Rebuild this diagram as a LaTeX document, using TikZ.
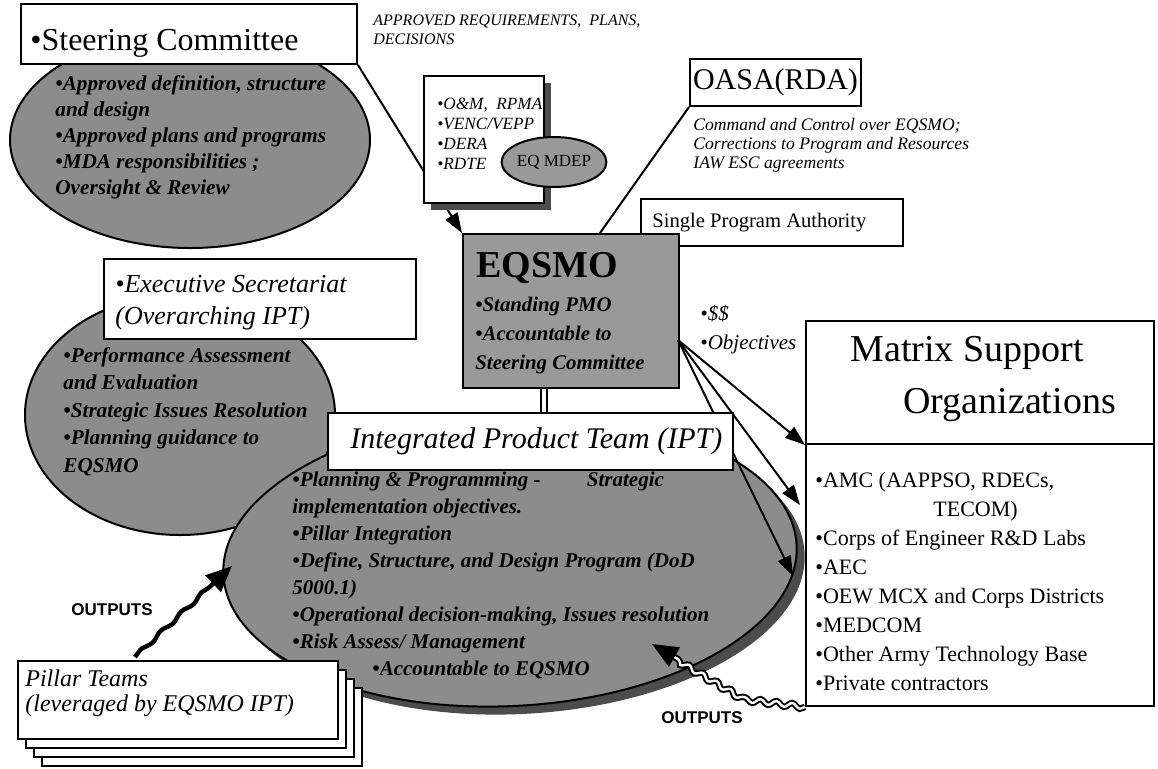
\documentclass[tikz,border=0pt]{standalone}
\usepackage{fontspec}
\setmainfont{Liberation Serif}
\newfontfamily\arialfont{Liberation Sans}
\usetikzlibrary{arrows.meta,shapes.geometric,decorations.pathmorphing}

\tikzset{
  frame/.style={draw, fill=white, line width=1pt, inner sep=0pt, anchor=north west},
  blob/.style={ellipse, draw, fill=black!45, line width=1pt, inner sep=0pt},
  shade/.style={fill=black!70, draw=none},
  note/.style={inner sep=0pt, align=left, anchor=north west},
  label/.style={inner sep=0pt, anchor=base west},
  wire/.style={line width=1pt},
  feed/.style={line width=1pt, -{Triangle[length=10pt,width=7pt]}},
  outflow/.style={line width=2.2pt, decorate,
    decoration={snake, amplitude=0.8pt, segment length=14pt, post length=13pt},
    -{Triangle[length=13pt,width=11pt]}},
  outlabel/.style={inner sep=0pt, font=\arialfont\bfseries\fontsize{8.5}{10}\selectfont}
}

\begin{document}
\begin{tikzpicture}[x=0.5pt,y=-0.5pt]
  \useasboundingbox (0,0) rectangle (1158,768);
  % steering committee
  \node[blob, minimum width=180pt, minimum height=108pt] (steerblob) at (190,140) {};
  \node[frame, minimum width=168pt, minimum height=30pt] (steer) at (20,3) {};
  \node[label, font=\fontsize{16}{19}\selectfont] (steertitle) at (30,50) {\textbullet Steering Committee};
  \node[note, font=\bfseries\itshape\fontsize{10.6}{13}\selectfont] (steerlist) at (55,75)
    {\textbullet Approved definition, structure\\and design\\\textbullet Approved plans and programs\\\textbullet MDA responsibilities ;\\Oversight \& Review};
  % executive secretariat
  \node[blob, minimum width=155pt, minimum height=120pt] (execblob) at (180,415) {};
  \node[frame, minimum width=156pt, minimum height=40pt] (exec) at (103,258) {};
  \node[note, font=\itshape\fontsize{13}{16}\selectfont] (exectitle) at (115,275)
    {\textbullet Executive Secretariat\\(Overarching IPT)};
  \node[note, font=\bfseries\itshape\fontsize{10.6}{13.75}\selectfont] (execlist) at (63,347)
    {\textbullet Performance Assessment\\and Evaluation\\\textbullet Strategic Issues Resolution\\\textbullet Planning guidance to\\EQSMO};
  % approved requirements and funds
  \node[note, font=\itshape\fontsize{8}{9.5}\selectfont] (approved) at (373,14)
    {APPROVED REQUIREMENTS,\ \ PLANS,\\DECISIONS};
  \node[frame, minimum width=108pt, minimum height=77pt, draw=none, fill=none] (eqsmoarea) at (462,233) {};
  \draw[feed] (steer.south east) -- (eqsmoarea.north west);
  \node[frame, shade, minimum width=60pt, minimum height=63.5pt] (fundshade) at (430,82) {};
  \node[frame, minimum width=60pt, minimum height=63.5pt] (funds) at (423,75) {};
  \node[note, font=\itshape\fontsize{8.6}{10}\selectfont] (fundlist) at (437,98)
    {\textbullet O\&M,\ \ RPMA\\\textbullet VENC/VEPP\\\textbullet DERA\\\textbullet RDTE};
  \node[blob, fill=black!40, minimum width=46pt, minimum height=25pt, font=\fontsize{8.5}{10}\selectfont] (mdep) at (554,162) {EQ MDEP};
  % OASA(RDA)
  \node[frame, minimum width=85.5pt, minimum height=23.5pt, font=\fontsize{15}{18}\selectfont] (oasa) at (689,58) {OASA(RDA)};
  \node[note, font=\itshape\fontsize{8.8}{9.5}\selectfont] (command) at (693,118)
    {Command and Control over EQSMO;\\Corrections to Program and Resources\\IAW ESC agreements};
  \coordinate (eqtop) at (600,233);
  \draw[wire] (oasa.south west) -- (eqtop);
  % single program authority and EQSMO
  \node[frame, minimum width=131pt, minimum height=23.5pt] (spa) at (640,198) {};
  \node[label, font=\fontsize{10.3}{12}\selectfont] (spatext) at (652,227) {Single Program Authority};
  \node[frame, fill=black!40, minimum width=108pt, minimum height=77pt] (eqsmo) at (462,233) {};
  \node[label, font=\bfseries\fontsize{19}{22}\selectfont] (eqsmotitle) at (476,277) {EQSMO};
  \node[note, font=\bfseries\itshape\fontsize{10.4}{14.5}\selectfont] (eqsmolist) at (475,297)
    {\textbullet Standing PMO\\\textbullet Accountable to\\Steering Committee};
  \node[note, font=\itshape\fontsize{10.5}{14.5}\selectfont] (money) at (700,305)
    {\textbullet\$\$\\\textbullet Objectives};
  % integrated product team
  \node[blob, shade, rotate=3, minimum width=287pt, minimum height=146pt] (iptshade) at (518,568) {};
  \node[blob, rotate=3, minimum width=287pt, minimum height=146pt] (iptblob) at (510,560) {};
  \coordinate (fan) at (678,340);
  \coordinate (iptright) at (793,576);
  \draw[feed] (fan) -- (iptright);
  \node[frame, minimum width=202.5pt, minimum height=28.5pt] (ipt) at (327,412) {};
  \node[label, font=\itshape\fontsize{15}{18}\selectfont] (ipttitle) at (350,448) {Integrated Product Team (IPT)};
  \coordinate (eqlink) at (544,400);
  \draw[wire, double, double distance=2pt, line width=0.8pt] (eqsmo.south -| eqlink) -- (ipt.north -| eqlink);
  \node[note, font=\bfseries\itshape\fontsize{10.5}{13.5}\selectfont] (iptlist) at (292,472)
    {\textbullet Planning \& Programming -\hspace{2.2em}Strategic\\implementation objectives.\\\textbullet Pillar Integration\\\textbullet Define, Structure, and Design Program (DoD\\5000.1)\\\textbullet Operational decision-making, Issues resolution\\\textbullet Risk Assess/ Management\\\hspace*{40pt}\textbullet Accountable to EQSMO};
  % matrix support organizations
  \node[frame, minimum width=174pt, minimum height=61.5pt] (matrixtop) at (805,320) {};
  \node[note, font=\fontsize{19}{26}\selectfont] (matrixtitle) at (850,336)
    {Matrix Support\\\hspace*{26.5pt}Organizations};
  \node[frame, minimum width=174pt, minimum height=131pt] (matrixlist) at (805,443) {};
  \node[note, font=\fontsize{11}{14.5}\selectfont] (orglist) at (815,472)
    {\textbullet AMC (AAPPSO, RDECs,\\\hspace*{59pt}TECOM)\\\textbullet Corps of Engineer R\&D Labs\\\textbullet AEC\\\textbullet OEW MCX and Corps Districts\\\textbullet MEDCOM\\\textbullet Other Army Technology Base\\\textbullet Private contractors};
  \coordinate (amc) at (800,505);
  \draw[feed] (fan) -- (matrixtop.south west);
  \draw[feed] (fan) -- (amc);
  % pillar teams
  \node[frame, minimum width=160pt, minimum height=39pt] (pillarD) at (41,687) {};
  \node[frame, minimum width=160pt, minimum height=39pt] (pillarC) at (33,678) {};
  \node[frame, minimum width=160pt, minimum height=39pt] (pillarB) at (25,669) {};
  \node[frame, minimum width=160pt, minimum height=39pt] (pillarA) at (17,660) {};
  \node[note, font=\itshape\fontsize{12}{12.5}\selectfont] (pillartext) at (25,669)
    {Pillar Teams\\(leveraged by EQSMO IPT)};
  % outputs
  \coordinate (outA) at (135,657);
  \coordinate (iptleft) at (232,566);
  \draw[outflow] (outA) -- (iptleft);
  \node[outlabel] (outputsA) at (112,610) {OUTPUTS};
  \coordinate (bend) at (748,700);
  \coordinate (iptlow) at (652,644);
  \draw[outflow, double=white, double distance=1.2pt, line width=1pt,
    decoration={snake, amplitude=1.2pt, segment length=8pt, post length=13pt}] (matrixlist.south west) -- (bend) -- (iptlow);
  \node[outlabel] (outputsB) at (702,718) {OUTPUTS};
\end{tikzpicture}
\end{document}
